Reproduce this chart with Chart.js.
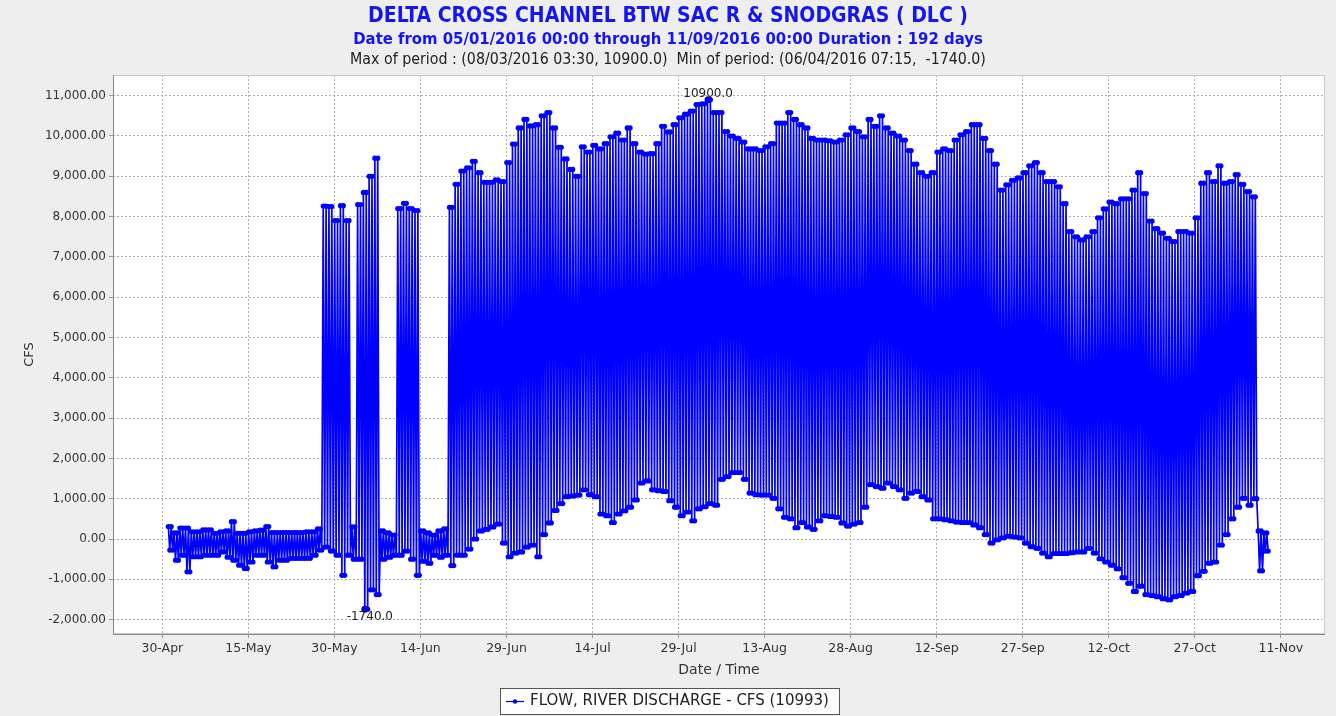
<!DOCTYPE html>
<html><head><meta charset="utf-8">
<script src="https://cdn.jsdelivr.net/npm/chart.js@4.4.1/dist/chart.umd.min.js"></script>
<style>html,body{margin:0;padding:0;background:#eeeeee;overflow:hidden}</style>
</head><body>
<canvas id="c" width="1336" height="716"></canvas>
<script>
// ---- data (day 0 = 30-Apr-2016; day d covers d..d+1, d=1 is 01-May) ----
const titleText = 'DELTA CROSS CHANNEL BTW SAC R & SNODGRAS ( DLC )';
const subtitleText = 'Date from 05/01/2016 00:00 through 11/09/2016 00:00 Duration : 192 days';
const extremesText = 'Max of period : (08/03/2016 03:30, 10900.0)  Min of period: (06/04/2016 07:15,  -1740.0)';
const seriesLabel = 'FLOW, RIVER DISCHARGE - CFS (10993)';

const dailyHigh = [
  310,150,270,270,180,180,225,225,140,180,200,430,140,140,180,200,220,310,160,160,160,160,160,160,180,180,250,
  8260,8250,7900,8270,7900,
  300,
  8300,8600,9000,9450,
  200,150,100,
  8200,8330,8200,8150,
  200,150,100,200,250,
  8230,8800,9130,9210,9370,9090,8850,8850,8910,8870,
  9340,9800,10200,10410,10250,10280,10500,10580,10200,9720,
  9430,9170,9000,9730,9600,9770,9680,9810,9980,10070,
  9900,10200,9810,9600,9550,9560,9810,10240,10100,10280,
  10450,10540,10620,10780,10800,10900,10580,10580,10110,10000,
  9940,9850,9680,9680,9640,9730,9810,10320,10320,10580,
  10410,10280,10200,9940,9900,9900,9880,9850,9900,10030,
  10200,10110,9980,10410,10240,10500,10200,10070,10000,9900,
  9640,9300,9090,9000,9090,9600,9680,9640,9900,10030,
  10110,10280,10280,9940,9640,9300,8660,8790,8900,8960,
  9090,9260,9340,9090,8870,8870,8740,8320,7630,7500,
  7420,7500,7630,7970,8190,8360,8320,8440,8440,8660,
  9090,8570,7890,7700,7590,7460,7380,7630,7630,7590,
  7970,8830,9090,8870,9260,8830,8870,9040,8800,8620,
  8490,200,150
];
const dailyLow = [
  -275,-525,-400,-815,-440,-440,-400,-400,-400,-320,-450,-525,-650,-730,-570,-400,-400,-570,-690,-525,-525,-480,-480,-480,-480,-400,-275,
  -200,-300,-400,-900,-400,
  -500,
  -500,-1740,-1260,-1380,
  -500,-450,-400,
  -400,-300,-500,-900,
  -550,-600,-400,-450,-400,
  -660,-400,-400,-250,0,200,240,300,370,-100,
  -440,-350,-320,-200,-150,-440,110,400,710,880,
  1050,1070,1090,1220,1100,1050,620,580,410,620,
  700,790,970,1390,1440,1220,1200,1180,950,790,
  580,670,450,750,800,880,840,1480,1550,1650,
  1650,1480,1140,1100,1090,1090,1010,750,540,500,
  280,410,300,240,450,580,560,540,400,320,
  370,410,790,1350,1300,1260,1390,1300,1220,1010,
  1140,1180,1050,970,500,500,480,450,420,410,
  410,350,280,110,-100,-20,30,70,50,30,
  -100,-190,-230,-350,-440,-360,-360,-360,-340,-320,
  -320,-230,-350,-490,-570,-650,-740,-960,-1100,-1300,
  -1170,-1380,-1400,-1430,-1480,-1510,-1430,-1400,-1340,-1300,
  -910,-800,-600,-570,-150,110,500,790,1010,840,
  1000,-790,-300
];
const tickDays = [0,15,30,45,60,75,90,105,120,135,150,165,180,195];
const tickLabels = ['30-Apr','15-May','30-May','14-Jun','29-Jun','14-Jul','29-Jul','13-Aug','28-Aug','12-Sep','27-Sep','12-Oct','27-Oct','11-Nov'];
const yTickValues = [-2000,-1000,0,1000,2000,3000,4000,5000,6000,7000,8000,9000,10000,11000];
const extremeDays = [95 + 3.5/24, 35 + 7.25/24];
const extremeValues = [10900, -1740];
const extremeLabels = ['10900.0', '-1740.0'];

// ---- two tidal cycles per day, each reaching that day's high and low ----
const flowPoints = [];
for (let i = 0; i < dailyHigh.length; i++) {
  const d = i + 1;
  flowPoints.push({x: d + 0.05, y: dailyHigh[i]});
  flowPoints.push({x: d + 0.30, y: dailyLow[i]});
  flowPoints.push({x: d + 0.55, y: dailyHigh[i]});
  flowPoints.push({x: d + 0.80, y: dailyLow[i]});
}
const extremePoints = extremeDays.map((d, i) => ({x: d, y: extremeValues[i]}));

const BLUE = '#0000ff';
const fmtY = v => v.toLocaleString('en-US', {minimumFractionDigits: 2, maximumFractionDigits: 2});

const bgPlugin = {
  id: 'bg',
  beforeDraw(chart) {
    const {ctx, chartArea: a} = chart;
    ctx.save();
    ctx.fillStyle = '#eeeeee';
    ctx.fillRect(0, 0, chart.width, chart.height);
    ctx.fillStyle = '#ffffff';
    ctx.fillRect(a.left, a.top, a.right - a.left, a.bottom - a.top);
    ctx.restore();
  },
  afterDraw(chart) {
    const {ctx, chartArea: a} = chart;
    ctx.save();
    ctx.strokeStyle = '#c8c8c8';
    ctx.lineWidth = 1;
    ctx.strokeRect(Math.round(a.left) + 0.5, Math.round(a.top) + 0.5, Math.round(a.right - a.left) - 1, Math.round(a.bottom - a.top) - 1);
    ctx.strokeStyle = '#8a8a8a';
    ctx.beginPath();
    ctx.moveTo(Math.round(a.left) + 0.5, a.top);
    ctx.lineTo(Math.round(a.left) + 0.5, Math.round(a.bottom) + 0.5);
    ctx.lineTo(a.right, Math.round(a.bottom) + 0.5);
    ctx.stroke();

    const lines = [
      {text: titleText, fam: '"DejaVu Sans Condensed", "DejaVu Sans"', weight: 'bold', color: '#1414f5', y: 17, w: 600},
      {text: subtitleText, fam: '"DejaVu Sans Condensed", "DejaVu Sans"', weight: 'bold', color: '#1414f5', y: 40, w: 630},
      {text: extremesText, fam: '"DejaVu Sans Condensed", "DejaVu Sans"', weight: 'normal', color: '#222222', y: 60, w: 636}
    ];
    ctx.textAlign = 'center';
    ctx.textBaseline = 'middle';
    lines.forEach(l => {
      ctx.font = `${l.weight} 20px ${l.fam}`;
      const m = ctx.measureText(l.text).width;
      const s = 20 * l.w / m;
      ctx.font = `${l.weight} ${s.toFixed(2)}px ${l.fam}`;
      ctx.fillStyle = l.color;
      ctx.fillText(l.text, 668, l.y);
    });

    const meta = chart.getDatasetMeta(1);
    ctx.font = '12px "DejaVu Sans"';
    ctx.fillStyle = '#222222';
    meta.data.forEach((pt, i) => {
      if (i === 0) {
        ctx.textBaseline = 'alphabetic';
        ctx.fillText(extremeLabels[i], pt.x, pt.y - 3);
      } else {
        ctx.textBaseline = 'top';
        ctx.fillText(extremeLabels[i], pt.x + 5, pt.y + 2);
      }
    });

    const bx = 500.5, by = 688.5, bw = 339, bh = 26;
    ctx.fillStyle = '#ffffff';
    ctx.fillRect(bx, by, bw, bh);
    ctx.strokeStyle = '#555555';
    ctx.strokeRect(bx, by, bw, bh);
    ctx.strokeStyle = BLUE;
    ctx.lineWidth = 1.2;
    ctx.beginPath();
    ctx.moveTo(506, 701.5); ctx.lineTo(524, 701.5);
    ctx.stroke();
    ctx.fillStyle = BLUE;
    ctx.beginPath(); ctx.arc(515, 701.5, 2.2, 0, Math.PI * 2); ctx.fill();
    ctx.font = '13px "DejaVu Sans"';
    const lm = ctx.measureText(seriesLabel).width;
    const ls = 13 * 299 / lm;
    ctx.font = `${ls.toFixed(2)}px "DejaVu Sans"`;
    ctx.fillStyle = '#222222';
    ctx.textAlign = 'left';
    ctx.textBaseline = 'middle';
    ctx.fillText(seriesLabel, 530, 701.5);
    ctx.restore();
  }
};

new Chart(document.getElementById('c'), {
  type: 'scatter',
  data: {
    datasets: [
      {
        label: seriesLabel,
        data: flowPoints,
        showLine: true,
        borderColor: BLUE,
        backgroundColor: BLUE,
        borderWidth: 1.7,
        borderJoinStyle: 'round',
        pointRadius: 2.6,
        pointBorderWidth: 0,
        tension: 0
      },
      {
        label: 'extremes',
        data: extremePoints,
        showLine: false,
        borderColor: '#111111',
        backgroundColor: '#111111',
        pointRadius: 3.5,
        pointBorderWidth: 0
      }
    ]
  },
  options: {
    responsive: false,
    animation: false,
    devicePixelRatio: 1,
    layout: {padding: {top: 75, left: 0, right: 11, bottom: 37}},
    plugins: {legend: {display: false}, tooltip: {enabled: false}, title: {display: false}},
    scales: {
      x: {
        type: 'linear',
        min: -8.6,
        max: 202.7,
        afterBuildTicks: s => { s.ticks = tickDays.map(v => ({value: v})); },
        afterFit: s => { s.height = 45; },
        ticks: {
          autoSkip: false, maxRotation: 0, minRotation: 0, padding: 3,
          font: {family: 'DejaVu Sans', size: 12.5}, color: '#333333',
          callback: v => tickLabels[tickDays.indexOf(v)]
        },
        grid: {color: '#b0b0b0', lineWidth: 1, tickLength: 4, tickColor: '#999999'},
        border: {display: false, dash: [2, 2]},
        title: {display: true, text: 'Date / Time', font: {family: 'DejaVu Sans', size: 14}, color: '#333333', padding: {top: 4, bottom: 0}}
      },
      y: {
        type: 'linear',
        min: -2357,
        max: 11513,
        afterBuildTicks: s => { s.ticks = yTickValues.map(v => ({value: v})); },
        afterFit: s => { s.width = 113; },
        ticks: {
          padding: 3,
          font: {family: 'DejaVu Sans', size: 12}, color: '#333333',
          callback: v => fmtY(v)
        },
        grid: {color: '#b0b0b0', lineWidth: 1, tickLength: 4, tickColor: '#999999'},
        border: {display: false, dash: [2, 2]},
        title: {display: true, text: 'CFS', font: {family: 'DejaVu Sans', size: 13}, color: '#333333', padding: {top: 22, bottom: 0}}
      }
    }
  },
  plugins: [bgPlugin]
});
</script>
</body></html>
